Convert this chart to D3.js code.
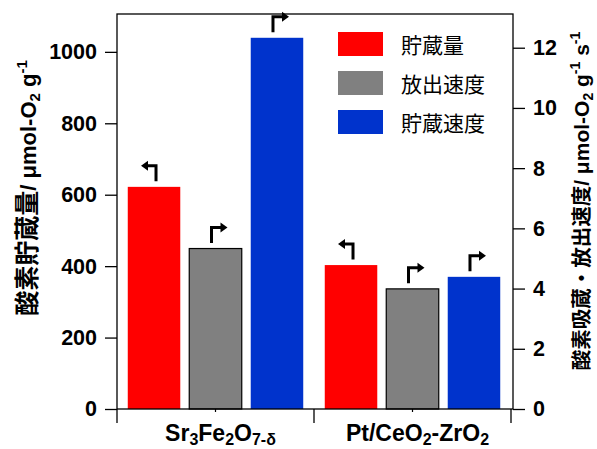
<!DOCTYPE html>
<html>
<head>
<meta charset="utf-8">
<script src="https://cdn.jsdelivr.net/npm/d3@7"></script>
<style>
  body { margin: 0; background: #fff; }
  svg { display: block; }
</style>
</head>
<body>
<div id="root"></div>
<script>
// data
const categories = ["Sr3Fe2O7-δ", "Pt/CeO2-ZrO2"];
const seriesNames = ["貯蔵量", "放出速度", "貯蔵速度"];
const seriesColors = ["#ff0000", "#808080", "#0033cc"];
const seriesAxis = ["left", "right", "right"];
const storage = [622, 403];        // μmol-O2 g-1 (left axis)
const releaseRate = [5.33, 3.99];  // μmol-O2 g-1 s-1 (right axis)
const storageRate = [12.33, 4.39]; // μmol-O2 g-1 s-1 (right axis)
const leftTicks = [0, 200, 400, 600, 800, 1000];
const rightTicks = [0, 2, 4, 6, 8, 10, 12];

const seriesValues = [storage, releaseRate, storageRate];

const width = 597;
const height = 449;
const frame = { left: 117, right: 513, top: 14, bottom: 409 };

const svg = d3.select("#root")
  .append("svg")
  .attr("width", width)
  .attr("height", height)
  .attr("viewBox", `0 0 ${width} ${height}`);

const latin = "'Liberation Sans', Arial, sans-serif";
const cjk = "'Noto Sans CJK JP', 'Noto Sans CJK SC', sans-serif";

// scales
const x0 = d3.scaleBand().domain(categories).range([frame.left, 511]).padding(0);
const x1 = d3.scaleBand().domain(seriesNames).range([0, x0.bandwidth()])
  .paddingInner(0.146).paddingOuter(0.175);
const yL = d3.scaleLinear().domain([0, 1106]).range([frame.bottom, frame.top]);
const yR = d3.scaleLinear().domain([0, 13.12]).range([frame.bottom, frame.top]);

// bars
const bars = [];
categories.forEach((c, i) => {
  seriesNames.forEach((s, j) => {
    bars.push({ cat: c, series: s, idx: j, value: seriesValues[j][i], axis: seriesAxis[j] });
  });
});
const yOf = (d) => (d.axis === "left" ? yL(d.value) : yR(d.value));

svg.append("g")
  .selectAll("rect")
  .data(bars)
  .join("rect")
  .attr("x", (d) => x0(d.cat) + x1(d.series))
  .attr("y", yOf)
  .attr("width", x1.bandwidth())
  .attr("height", (d) => frame.bottom - yOf(d))
  .attr("fill", (d) => seriesColors[d.idx])
  .attr("stroke", (d) => (d.idx === 1 ? "#000" : "none"))
  .attr("stroke-width", 1.2);

// elbow arrows showing which axis a bar belongs to
const arrows = svg.append("g");
bars.forEach((d) => {
  const cx = x0(d.cat) + x1(d.series) + x1.bandwidth() / 2;
  const by = yOf(d) - 7;
  const ty = by - 14;
  const toLeft = d.axis === "left";
  const sx = toLeft ? cx + 2 : cx - 4;
  const tip = toLeft ? cx - 13 : cx + 12;
  const head = toLeft ? tip + 7 : tip - 7;
  arrows.append("path")
    .attr("d", `M${sx},${by}V${ty}H${head}`)
    .attr("fill", "none")
    .attr("stroke", "#000")
    .attr("stroke-width", 3)
    .attr("stroke-linejoin", "miter")
    .attr("stroke-linecap", "square");
  arrows.append("path")
    .attr("d", `M${head},${ty - 5}L${tip},${ty}L${head},${ty + 5}Z`)
    .attr("fill", "#000");
});

// frame
svg.append("rect")
  .attr("x", frame.left)
  .attr("y", frame.top)
  .attr("width", frame.right - frame.left)
  .attr("height", frame.bottom - frame.top)
  .attr("fill", "none")
  .attr("stroke", "#000")
  .attr("stroke-width", 1.3);

// left axis
const leftAxis = svg.append("g")
  .attr("transform", `translate(${frame.left},0)`)
  .call(d3.axisLeft(yL).tickValues(leftTicks).tickFormat(d3.format("d"))
    .tickSize(12).tickPadding(8));
// right axis
const rightAxis = svg.append("g")
  .attr("transform", `translate(${frame.right},0)`)
  .call(d3.axisRight(yR).tickValues(rightTicks).tickFormat(d3.format("d"))
    .tickSize(12).tickPadding(8));

[leftAxis, rightAxis].forEach((g) => {
  g.select(".domain").remove();
  g.selectAll(".tick line").attr("stroke", "#000").attr("stroke-width", 1.3);
  g.selectAll(".tick text")
    .attr("fill", "#000")
    .style("font-family", latin)
    .style("font-size", "21.5px")
    .style("font-weight", "bold");
});

// bottom axis: short ticks at centres, long ticks at category edges
const bottomAxis = svg.append("g")
  .attr("transform", `translate(0,${frame.bottom})`)
  .call(d3.axisBottom(x0).tickSize(3).tickFormat(""));
bottomAxis.select(".domain").remove();
bottomAxis.selectAll(".tick line").attr("stroke", "#000").attr("stroke-width", 1.2);

const edges = [x0(categories[0])].concat(categories.map((c) => x0(c) + x0.bandwidth()));
svg.append("g")
  .selectAll("line")
  .data(edges)
  .join("line")
  .attr("x1", (d) => d)
  .attr("x2", (d) => d)
  .attr("y1", frame.bottom)
  .attr("y2", frame.bottom + 14)
  .attr("stroke", "#000")
  .attr("stroke-width", 1.3);

// category labels with subscripts
const catParts = [
  [["Sr", 0], ["3", 1], ["Fe", 0], ["2", 1], ["O", 0], ["7-δ", 1]],
  [["Pt/CeO", 0], ["2", 1], ["-ZrO", 0], ["2", 1]],
];
categories.forEach((c, i) => {
  const t = svg.append("text")
    .attr("x", x0(c) + x0.bandwidth() / 2 + 5)
    .attr("y", 441)
    .attr("text-anchor", "middle")
    .style("font-family", latin)
    .style("font-size", "23px")
    .style("font-weight", "bold");
  let prevSub = 0;
  catParts[i].forEach(([s, sub]) => {
    t.append("tspan")
      .attr("dy", sub === prevSub ? 0 : sub ? 4 : -4)
      .style("font-size", sub ? "16px" : "23px")
      .text(s);
    prevSub = sub;
  });
});

// axis titles
function axisTitle(x, y, parts) {
  const t = svg.append("text")
    .attr("transform", `translate(${x},${y}) rotate(-90)`)
    .attr("text-anchor", "middle")
    .style("font-weight", "bold");
  let shift = 0;
  parts.forEach(([s, kind, size]) => {
    const target = kind === "sub" ? 4 : kind === "sup" ? -9 : 0;
    t.append("tspan")
      .attr("dy", target - shift)
      .style("font-family", kind === "cjk" ? cjk : latin)
      .style("font-size", size + "px")
      .text(s);
    shift = target;
  });
}

axisTitle(36, 188, [
  ["酸素貯蔵量", "cjk", 25], ["/ μmol-O", "n", 22], ["2", "sub", 15],
  [" g", "n", 22], ["-1", "sup", 15],
]);
axisTitle(589, 201, [
  ["酸素吸蔵・放出速度", "cjk", 20.5], ["/ μmol-O", "n", 21], ["2", "sub", 14],
  [" g", "n", 21], ["-1", "sup", 14], [" s", "n", 21], ["-1", "sup", 14],
]);

// legend
const legend = svg.append("g");
seriesNames.forEach((s, i) => {
  legend.append("rect")
    .attr("x", 338)
    .attr("y", 32 + i * 39)
    .attr("width", 45)
    .attr("height", 24)
    .attr("fill", seriesColors[i]);
  legend.append("text")
    .attr("x", 401)
    .attr("y", 44 + i * 39)
    .attr("dominant-baseline", "central")
    .style("font-family", cjk)
    .style("font-size", "21px")
    .text(s);
});
</script>
</body>
</html>
